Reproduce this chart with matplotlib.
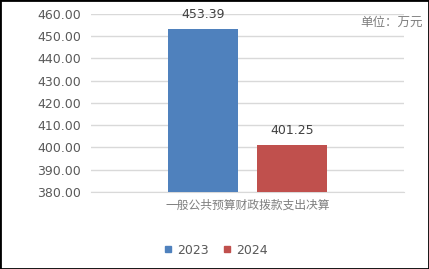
import matplotlib
matplotlib.use('Agg')
import matplotlib.pyplot as plt
from matplotlib.patches import Rectangle
from matplotlib.lines import Line2D

plt.rcParams['font.family'] = ['Noto Sans CJK SC', 'DejaVu Sans']

category = ['一般公共预算财政拨款支出决算']
years = ['2023', '2024']
values = [453.39, 401.25]
colors = ['#4F81BD', '#C0504D']
yticks = [380, 390, 400, 410, 420, 430, 440, 450, 460]

fig = plt.figure(figsize=(4.29, 2.69), dpi=100)
ax = fig.add_axes([91 / 429, 77 / 269, 313 / 429, 178 / 269])

offsets = [-0.142, 0.142]
for i in range(len(years)):
    ax.bar(offsets[i], values[i], width=0.2236, bottom=0, color=colors[i], zorder=3)
    ax.text(offsets[i], values[i] + 3.5, '%.2f' % values[i], ha='center', va='bottom',
            fontsize=9, color='#404040', family='DejaVu Sans')

ax.set_xlim(-0.5, 0.5)
ax.set_ylim(380, 460)
ax.set_yticks(yticks)
ax.set_yticklabels(['%.2f' % v for v in yticks], family='DejaVu Sans')
ax.set_xticks([0])
ax.set_xticklabels(category, fontsize=8.5, color='#7F7F7F')
ax.tick_params(axis='y', length=0, labelsize=9, labelcolor='#595959', pad=7)
ax.tick_params(axis='x', length=0, pad=5)
ax.grid(axis='y', color='#D9D9D9', linewidth=1, zorder=0)
for s in ['top', 'right', 'left']:
    ax.spines[s].set_visible(False)
ax.spines['bottom'].set_color('#D9D9D9')

fig.text(423 / 429, 1 - 22 / 269, '单位：万元', ha='right', va='center', fontsize=9, color='#7F7F7F')

handles = [Line2D([], [], marker='s', linestyle='', color=c, markersize=5) for c in colors]
fig.legend(handles, years, loc='center', bbox_to_anchor=(0.5, 19 / 269), ncol=2, frameon=False,
           handletextpad=0.2, columnspacing=1.0, handlelength=1.0,
           labelcolor='#595959', prop={'family': 'DejaVu Sans', 'size': 9})

fig.patches.append(Rectangle((0, 0), 1, 1, transform=fig.transFigure, fill=False,
                             edgecolor='black', linewidth=2))

fig.savefig('out.png', dpi=100)
